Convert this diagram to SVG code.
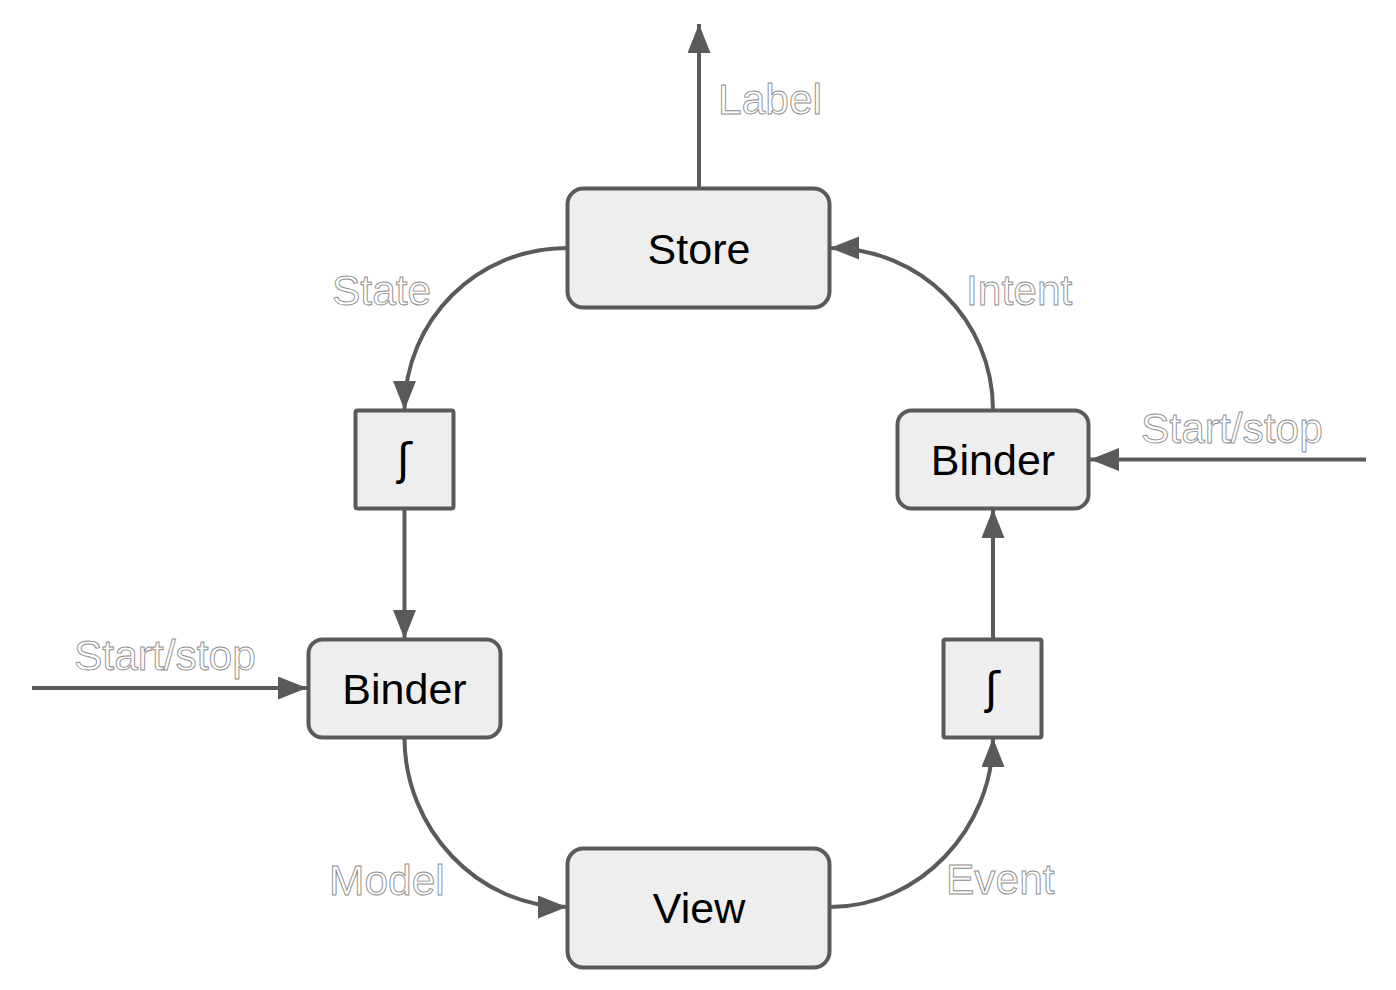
<svg xmlns="http://www.w3.org/2000/svg" width="1396" height="990" viewBox="0 0 1396 990">
<style>
.box{fill:#eeeeee;stroke:#5a5a5a;stroke-width:4}
.nt{font-family:"Liberation Sans",Arial,sans-serif;font-size:43px;fill:#000;text-anchor:middle}
.ft{font-family:"DejaVu Sans","Liberation Sans",sans-serif;font-size:44px;fill:#000;text-anchor:middle}
.lbl{font-family:"Liberation Sans",Arial,sans-serif;font-size:42.5px;fill:#ffffff;stroke:#8c8c8c;stroke-width:0.9}
.edge{fill:none;stroke:#5a5a5a;stroke-width:4;marker-end:url(#arr)}
</style>
<defs>
<marker id="arr" markerUnits="userSpaceOnUse" markerWidth="32" markerHeight="26" refX="29" refY="11.5" orient="auto" viewBox="0 0 32 26">
<path d="M0,0 L29,11.5 L0,23 z" fill="#5a5a5a"/>
</marker>
</defs>
<rect width="1396" height="990" fill="#ffffff"/>
<g id="connectors">
<path class="edge" d="M699,188 L699,24"/>
<path class="edge" d="M567,248 C477,248 404.5,320 404.5,410"/>
<path class="edge" d="M404.5,509 L404.5,639"/>
<path class="edge" d="M404.5,738 C404.5,828 477,907 567,907"/>
<path class="edge" d="M830,907 C920,907 993,828 993,738"/>
<path class="edge" d="M993,639 L993,509"/>
<path class="edge" d="M993,410 C993,320 920,248 830,248"/>
<path class="edge" d="M1366,459.5 L1090,459.5"/>
<path class="edge" d="M32,688 L307,688"/>
</g>
<g id="labels">
<text class="lbl" x="718" y="114">Label</text>
<text class="lbl" x="332" y="305">State</text>
<text class="lbl" x="966" y="305">Intent</text>
<text class="lbl" x="1141" y="443">Start/stop</text>
<text class="lbl" x="74" y="670">Start/stop</text>
<text class="lbl" x="329" y="895">Model</text>
<text class="lbl" x="946" y="894">Event</text>
</g>
<g id="store">
<rect class="box" x="567.5" y="188.5" width="262" height="119" rx="16"/>
<text class="nt" x="699" y="264">Store</text>
</g>
<g id="f-left">
<rect class="box" x="355.5" y="410.5" width="98" height="98" rx="2"/>
<text class="ft" x="404.5" y="475">ʃ</text>
</g>
<g id="binder-right">
<rect class="box" x="897.5" y="410.5" width="191" height="98" rx="14"/>
<text class="nt" x="993" y="475">Binder</text>
</g>
<g id="binder-left">
<rect class="box" x="308.5" y="639.5" width="192" height="98" rx="14"/>
<text class="nt" x="404.5" y="704">Binder</text>
</g>
<g id="f-right">
<rect class="box" x="943.5" y="639.5" width="98" height="98" rx="2"/>
<text class="ft" x="992.5" y="704">ʃ</text>
</g>
<g id="view">
<rect class="box" x="567.5" y="848.5" width="262" height="119" rx="16"/>
<text class="nt" x="699" y="923">View</text>
</g>
</svg>
